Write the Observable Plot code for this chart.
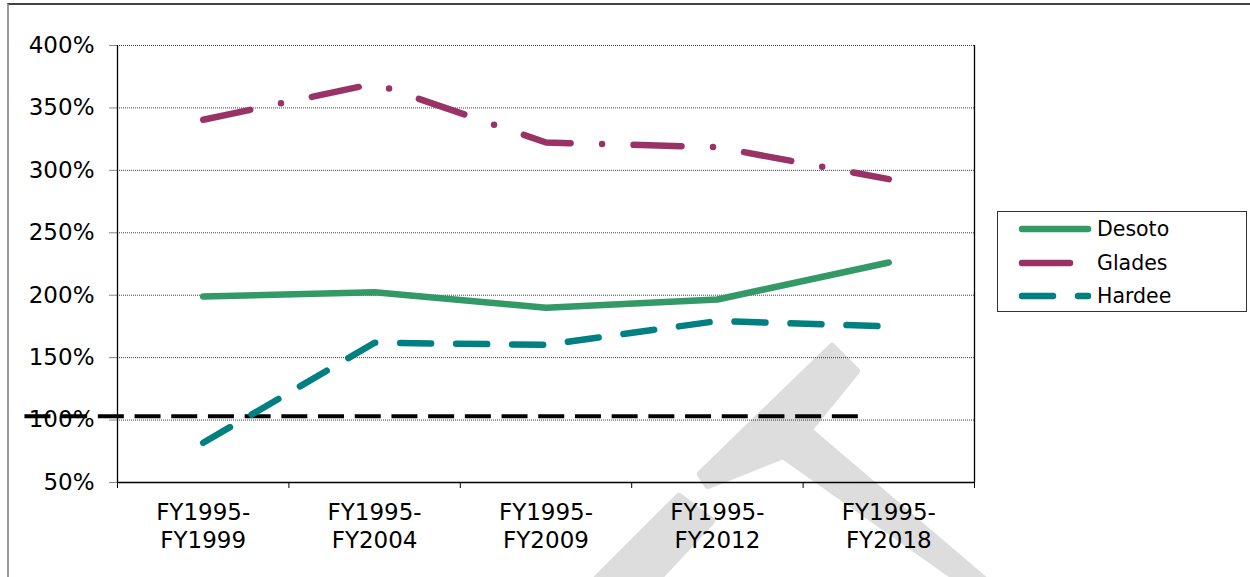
<!DOCTYPE html>
<html>
<head>
<meta charset="utf-8">
<script src="https://cdn.jsdelivr.net/npm/d3@7"></script>
<script src="https://cdn.jsdelivr.net/npm/@observablehq/plot@0.6"></script>
<style>
html, body { margin: 0; padding: 0; background: #fff; }
#wrap { position: relative; width: 1250px; height: 577px; overflow: hidden; font-family: "DejaVu Sans", Verdana, sans-serif; }
#frame { position: absolute; left: 7px; top: 3px; right: -10px; bottom: -10px; border-top: 2px solid #444; border-left: 2px solid #999; }
#wm { position: absolute; left: 0; top: 0; }
#chart { position: absolute; left: 0; top: 0; }
#legend { position: absolute; left: 997px; top: 211px; width: 250px; height: 101px; border: 1px solid #333; background: #fff; box-sizing: border-box; }
#legend svg { display: block; }
</style>
</head>
<body>
<div id="wrap">
  <div id="frame"></div>
  <svg id="wm" width="1250" height="577">
    <g fill="#dddddd" stroke="#dddddd" stroke-width="8" stroke-linejoin="round">
      <polygon points="832,347 856,371 808,430 984,580 960,580 783,455 708,485 701,474"></polygon>
      <polygon points="679,497 711,521 656,580 596,580"></polygon>
    </g>
  </svg>
  <div id="chart"></div>
  <div id="legend"></div>
</div>
<script>
// ---- data ----
const categories = ["FY1995-FY1999", "FY1995-FY2004", "FY1995-FY2009", "FY1995-FY2012", "FY1995-FY2018"];
const seriesNames = ["Desoto", "Glades", "Hardee"];
const desoto = [199, 202.4, 190, 196.6, 226.2];
const glades = [340.5, 369.5, 322.3, 318.6, 293];
const hardee = [81.8, 161.9, 160.3, 179.3, 175];
const yTicks = [50, 100, 150, 200, 250, 300, 350, 400];
const referenceLevel = 103;            // black dashed reference line (%)
const referenceSpan = [-1.04, 3.83];   // extent in category units

// ---- styles ----
const styles = {
  Desoto: { stroke: "#339966", dash: null },
  Glades: { stroke: "#993366", dash: "48,31.5,0,31.5" },
  Hardee: { stroke: "#008080", dash: "31,25" }
};

const valuesBySeries = { Desoto: desoto, Glades: glades, Hardee: hardee };
const rows = seriesNames.flatMap(s => valuesBySeries[s].map((v, i) => ({ series: s, i, category: categories[i], value: v })));
const boundaries = d3.range(categories.length + 1).map(i => i - 0.5);
const FONT = "DejaVu Sans, Verdana, sans-serif";
const AXIS_FONT = 23;

const seriesMarks = seriesNames.map(s => Plot.line(rows.filter(r => r.series === s), {
  x: "i", y: "value",
  stroke: styles[s].stroke,
  strokeWidth: 6.5,
  strokeLinecap: "round",
  strokeLinejoin: "round",
  strokeDasharray: styles[s].dash
}));

const chart = Plot.plot({
  width: 1250,
  height: 577,
  marginLeft: 117,
  marginRight: 276,
  marginTop: 45,
  marginBottom: 95,
  style: { background: "none", fontFamily: FONT, fontSize: AXIS_FONT + "px", color: "#000", overflow: "visible" },
  x: { type: "linear", domain: [-0.5, categories.length - 0.5], label: null },
  y: { domain: [yTicks[0], yTicks[yTicks.length - 1]], label: null },
  marks: [
    Plot.gridY(yTicks.filter(t => t > yTicks[0]), { stroke: "#000", strokeOpacity: 0.75, strokeWidth: 1, strokeDasharray: "1,1" }),
    Plot.axisY(yTicks, { label: null, tickSize: 8, tickPadding: 15, stroke: "#888", strokeOpacity: 1, tickFormat: d => d + "%", fontSize: AXIS_FONT, fill: "#000" }),
    Plot.axisX(boundaries, { label: null, tickSize: 6, tickFormat: () => "", stroke: "#000", strokeOpacity: 1 }),
    Plot.text(categories, {
      x: (d, i) => i, frameAnchor: "bottom", dy: 18, lineAnchor: "top",
      text: d => d.replace("-", "-\n"), lineHeight: 1.22, fontSize: AXIS_FONT, fill: "#000"
    }),
    Plot.ruleX([boundaries[0], boundaries[boundaries.length - 1]], { stroke: "#000", strokeWidth: 1.3 }),
    Plot.ruleY([yTicks[0]], { stroke: "#000", strokeWidth: 1.3 }),
    Plot.ruleY([referenceLevel], { x1: referenceSpan[0], x2: referenceSpan[1], stroke: "#000", strokeWidth: 4, strokeDasharray: "26,10.7" }),
    ...seriesMarks
  ]
});
document.getElementById("chart").appendChild(chart);

// ---- legend ----
const lg = d3.select("#legend").append("svg").attr("width", 248).attr("height", 99);
const rowY = [17, 51, 84];
seriesNames.forEach((s, k) => {
  lg.append("line")
    .attr("x1", 24).attr("x2", 90).attr("y1", rowY[k]).attr("y2", rowY[k])
    .attr("stroke", styles[s].stroke).attr("stroke-width", 6.5)
    .attr("stroke-linecap", "round")
    .attr("stroke-dasharray", styles[s].dash);
  lg.append("text")
    .attr("x", 99).attr("y", rowY[k]).attr("dy", "0.36em")
    .attr("font-family", FONT).attr("font-size", 20.5).attr("fill", "#000")
    .text(s);
});
</script>
</body>
</html>
